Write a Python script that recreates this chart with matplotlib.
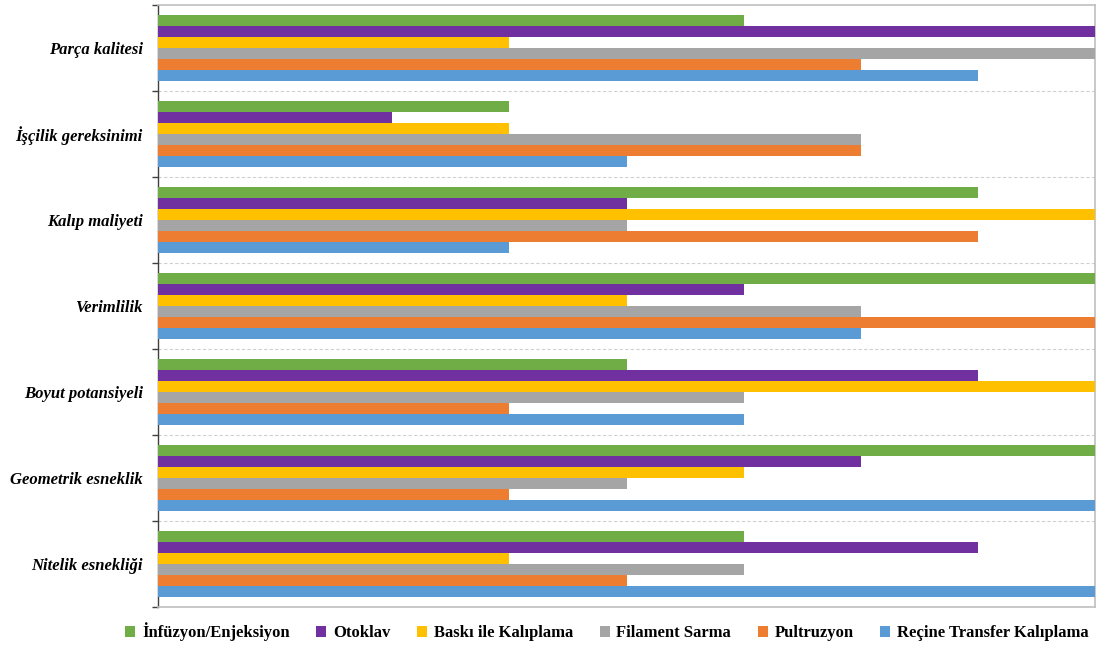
import matplotlib
matplotlib.use("Agg")
import matplotlib.pyplot as plt
from matplotlib.patches import Patch
import numpy as np

categories = ["Parça kalitesi", "İşçilik gereksinimi", "Kalıp maliyeti", "Verimlilik",
              "Boyut potansiyeli", "Geometrik esneklik", "Nitelik esnekliği"]
series_names = ["İnfüzyon/Enjeksiyon", "Otoklav", "Baskı ile Kalıplama",
                "Filament Sarma", "Pultruzyon", "Reçine Transfer Kalıplama"]
infuzyon = [5, 3, 7, 8, 4, 8, 5]
otoklav = [8, 2, 4, 5, 7, 6, 7]
baski = [3, 3, 8, 4, 8, 5, 3]
filament = [8, 6, 4, 6, 5, 4, 5]
pultruzyon = [6, 6, 7, 8, 3, 3, 4]
recine = [7, 4, 3, 6, 5, 8, 8]
colors = ["#70AD47", "#7030A0", "#FFC000", "#A5A5A5", "#ED7D31", "#5B9BD5"]
series = [infuzyon, otoklav, baski, filament, pultruzyon, recine]

plt.rcParams['font.family'] = ['Liberation Serif', 'DejaVu Serif']

fig = plt.figure(figsize=(10.98, 6.47), dpi=100)
ax = fig.add_axes([158/1098, 1-607/647, (1095-158)/1098, (607-5)/647])

n = len(series)
h = 0.128
y = np.arange(len(categories))
for i, (vals, c) in enumerate(zip(series, colors)):
    ax.barh(y + (i - (n-1)/2) * h, vals, height=h, color=c, edgecolor='none', zorder=3)

ax.set_xlim(0, 8)
ax.set_ylim(len(categories) - 0.5, -0.5)
ax.set_xticks([])

bounds = np.arange(-0.5, len(categories), 1.0)
ax.set_yticks(bounds)
ax.set_yticklabels([])
ax.tick_params(axis='y', which='major', length=4, width=1, color='#404040', direction='out')
ax.set_yticks(y, minor=True)
ax.set_yticklabels(categories, minor=True, fontsize=12, fontweight='bold', fontstyle='italic')
ax.tick_params(axis='y', which='minor', length=0, pad=11)

for b in bounds[1:-1]:
    ax.axhline(b, color='#D0D0D0', linestyle=(0, (3, 2)), linewidth=0.8, zorder=1)

for s in ['top', 'right', 'bottom']:
    ax.spines[s].set_color('#BFBFBF')
    ax.spines[s].set_linewidth(1.2)
ax.spines['left'].set_color('#404040')
ax.spines['left'].set_linewidth(1.0)

handles = [Patch(facecolor=c, edgecolor='none') for c in colors]
fig.legend(handles, series_names, loc='center', bbox_to_anchor=(607/1098, 1-632/647),
           ncol=6, frameon=False, handlelength=0.6, handleheight=0.6, handletextpad=0.4,
           columnspacing=1.6, prop={'weight': 'bold', 'size': 12})

fig.savefig("out.png", dpi=100)
